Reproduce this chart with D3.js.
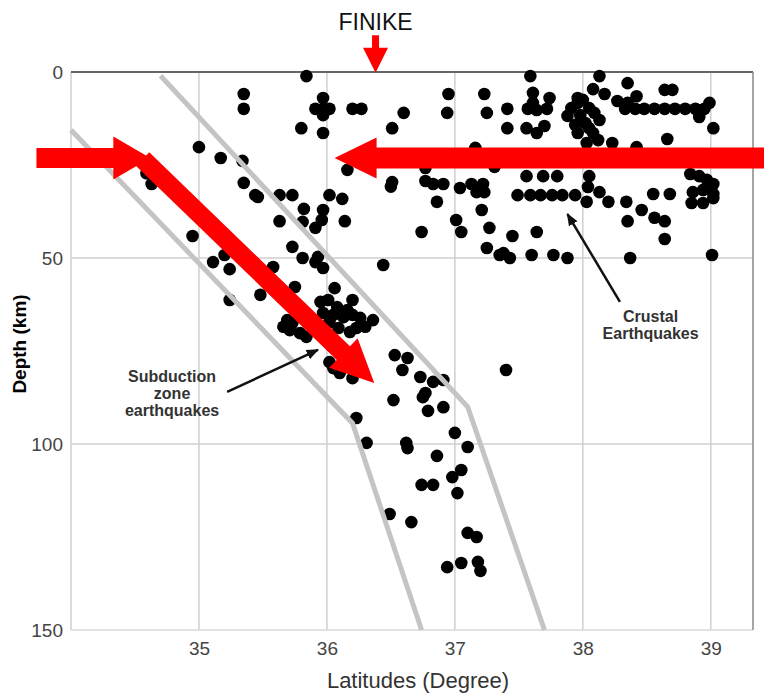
<!DOCTYPE html>
<html>
<head>
<meta charset="utf-8">
<script src="https://cdn.jsdelivr.net/npm/d3@7"></script>
<style>
    body { margin: 0; background: #fff; }
    text { font-family: "Liberation Sans", Arial, sans-serif; }
</style>
</head>
<body>
<div id="chart"></div>
<script>
// axis ticks
const latTicks = [35, 36, 37, 38, 39];
const depthTicks = [0, 50, 100, 150];

// crustal earthquakes (latitude in degree, depth in km)
const crustalLat = [35.84, 35.35, 35.35, 35.97, 35.91, 35.97, 36.02, 35.97, 36.20, 36.27,
    35.80, 35.97, 36.60, 36.51, 36.95, 36.94, 37.23, 37.25, 37.41, 37.41,
    37.16, 36.16, 36.51, 36.50, 36.77, 36.83, 36.91, 37.04, 37.13, 37.17,
    37.22, 37.23, 36.86, 37.21, 37.01, 37.05, 36.74, 37.27, 37.25, 37.35,
    37.43, 36.44, 37.59, 38.13, 38.35, 37.61, 37.74, 37.96, 38.08, 38.17,
    38.27, 38.42, 38.64, 38.70, 37.57, 37.64, 37.72, 37.88, 37.91, 37.56,
    37.64, 37.70, 38.02, 38.05, 38.08, 38.03, 38.12, 37.98, 38.13, 37.96,
    38.33, 38.41, 38.48, 38.56, 38.64, 38.72, 38.80, 38.88, 38.95, 38.91,
    39.02, 38.99, 38.66, 38.23, 38.42, 37.56, 37.69, 37.80, 37.49, 37.59,
    37.67, 37.76, 37.84, 37.94, 38.05, 38.04, 38.13, 38.03, 38.20, 38.34,
    38.55, 38.68, 38.46, 38.56, 38.64, 38.35, 38.64, 38.84, 38.91, 38.97,
    39.02, 38.86, 38.94, 39.02, 38.85, 38.94, 39.02, 37.45, 37.64, 37.38,
    37.60, 37.77, 37.88, 38.37, 39.01, 36.77, 37.31, 37.61, 37.96, 38.35,
    38.00, 38.05, 37.94, 38.09];
const crustalDepth = [1.1, 5.9, 9.9, 7.0, 9.9, 9.9, 9.9, 11.6, 9.9, 9.9,
    15.1, 16.4, 11.0, 15.1, 5.9, 11.0, 5.9, 11.0, 9.9, 15.1,
    20.4, 26.3, 29.6, 30.8, 29.3, 30.1, 30.1, 31.2, 30.1, 32.3,
    30.1, 32.3, 34.9, 37.1, 39.8, 43.0, 43.0, 41.9, 47.3, 49.2,
    50.0, 51.9, 1.1, 1.1, 3.0, 5.6, 7.0, 7.0, 4.6, 5.9,
    7.8, 6.5, 4.8, 4.8, 9.9, 10.2, 9.9, 11.8, 9.7, 15.1,
    16.4, 14.5, 13.7, 9.7, 16.4, 19.1, 18.3, 11.6, 12.9, 16.4,
    9.9, 9.9, 9.9, 9.9, 9.9, 9.9, 9.9, 9.9, 9.9, 12.1,
    15.1, 8.3, 18.0, 19.1, 20.2, 28.0, 28.0, 28.0, 33.1, 33.1,
    33.1, 33.1, 33.1, 33.1, 28.0, 30.9, 32.3, 34.9, 34.9, 34.9,
    32.8, 32.8, 37.1, 39.2, 40.1, 40.1, 44.9, 27.4, 28.0, 29.0,
    30.1, 32.3, 31.7, 32.8, 35.2, 35.2, 33.9, 44.1, 43.0, 48.7,
    49.2, 49.2, 50.0, 50.0, 49.2, 25.8, 25.5, 8.3, 8.3, 8.3,
    7.5, 15.1, 14.2, 11.0];

// subduction zone earthquakes
const slabLat = [35.00, 35.17, 35.34, 34.59, 34.63, 35.35, 35.44, 35.46, 35.63, 35.73,
    36.02, 36.12, 35.82, 35.97, 35.63, 35.81, 35.91, 35.96, 36.14, 34.95,
    35.73, 35.11, 35.20, 35.24, 35.24, 35.48, 35.58, 35.81, 35.93, 35.97,
    35.91, 35.75, 36.06, 36.20, 35.95, 36.01, 36.08, 36.16, 35.97, 36.05,
    36.13, 36.20, 36.26, 36.30, 36.23, 36.18, 35.69, 35.73, 35.66, 35.71,
    35.79, 35.84, 35.89, 36.36, 36.09, 36.02, 36.02, 36.05, 36.10, 36.20,
    36.23, 36.31, 36.53, 36.63, 36.59, 36.73, 36.83, 36.91, 36.77, 36.75,
    36.52, 36.79, 36.91, 37.00, 37.10, 36.62, 36.63, 36.86, 37.05, 36.98,
    36.74, 36.83, 37.02, 36.49, 36.66, 37.10, 37.17, 36.94, 37.05, 37.18,
    37.20, 37.40];
const slabDepth = [20.2, 23.1, 23.9, 27.2, 30.1, 29.8, 33.1, 33.6, 33.1, 33.1,
    33.1, 34.1, 36.8, 37.1, 40.1, 40.3, 41.9, 39.8, 40.1, 44.1,
    47.0, 51.1, 49.2, 53.0, 61.3, 59.9, 52.4, 50.0, 49.7, 52.7,
    51.1, 57.8, 58.1, 61.3, 61.8, 61.3, 63.2, 64.0, 64.8, 65.3,
    65.9, 65.3, 66.1, 68.5, 68.8, 69.9, 66.7, 67.5, 68.5, 69.4,
    70.2, 71.2, 67.2, 66.7, 68.8, 67.2, 78.0, 79.6, 80.9, 82.3,
    93.0, 99.7, 76.1, 76.9, 80.1, 82.0, 83.3, 82.8, 86.3, 87.4,
    88.2, 91.1, 90.1, 97.0, 100.8, 99.7, 101.1, 103.2, 107.0, 108.9,
    111.0, 111.0, 113.2, 118.8, 121.0, 123.9, 125.0, 133.1, 132.0, 131.7,
    134.1, 80.1];

// grey slab boundaries
const upperLat = [34.70, 37.10, 37.70];
const upperDepth = [1, 90, 150];
const lowerLat = [34.00, 36.20, 36.74];
const lowerDepth = [15.6, 94.4, 150];

const width = 764, height = 693;
const margin = {top: 72, right: 11, bottom: 63, left: 71};

const svg = d3.select("#chart").append("svg")
    .attr("width", width)
    .attr("height", height);

const x = d3.scaleLinear().domain([34, 39.33]).range([margin.left, width - margin.right]);
const y = d3.scaleLinear().domain([0, 150]).range([margin.top, height - margin.bottom]);

// grid lines
svg.append("g")
    .selectAll("line.vgrid")
    .data(latTicks)
    .enter().append("line")
    .attr("x1", d => x(d)).attr("x2", d => x(d))
    .attr("y1", y(0)).attr("y2", y(150))
    .style("stroke", "#cfcfcf").style("stroke-width", 1.5);
svg.append("g")
    .selectAll("line.hgrid")
    .data([50, 100])
    .enter().append("line")
    .attr("x1", x(34)).attr("x2", x(39.33))
    .attr("y1", d => y(d)).attr("y2", d => y(d))
    .style("stroke", "#cfcfcf").style("stroke-width", 1.5);

// frame: light left/bottom, darker top/right
svg.append("line").attr("x1", x(34)).attr("x2", x(34)).attr("y1", y(0)).attr("y2", y(150))
    .style("stroke", "#cfcfcf").style("stroke-width", 1.5);
svg.append("line").attr("x1", x(34)).attr("x2", x(39.33)).attr("y1", y(150)).attr("y2", y(150))
    .style("stroke", "#d8d8d8").style("stroke-width", 1.5);
svg.append("line").attr("x1", x(34)).attr("x2", x(39.33)).attr("y1", y(0)).attr("y2", y(0))
    .style("stroke", "#666").style("stroke-width", 2);
svg.append("line").attr("x1", x(39.33)).attr("x2", x(39.33)).attr("y1", y(0)).attr("y2", y(150))
    .style("stroke", "#888").style("stroke-width", 1.5);

// axes (labels only)
const xAxis = svg.append("g")
    .attr("transform", "translate(0," + y(150) + ")")
    .call(d3.axisBottom(x).tickValues(latTicks).tickFormat(d3.format("d")).tickSize(0).tickPadding(12));
const yAxis = svg.append("g")
    .attr("transform", "translate(" + x(34) + ",0)")
    .call(d3.axisLeft(y).tickValues(depthTicks).tickFormat(d3.format("d")).tickSize(0).tickPadding(8));
[xAxis, yAxis].forEach(function (g) {
    g.select(".domain").remove();
    g.selectAll("text")
        .style("font-family", "'Liberation Sans', Arial, sans-serif")
        .style("font-size", "19px")
        .style("fill", "#444");
});

// earthquakes
const quakes = crustalLat.map((d, i) => ({lat: d, depth: crustalDepth[i]}))
    .concat(slabLat.map((d, i) => ({lat: d, depth: slabDepth[i]})));
svg.append("g")
    .selectAll("circle")
    .data(quakes)
    .enter().append("circle")
    .attr("cx", d => x(d.lat))
    .attr("cy", d => y(d.depth))
    .attr("r", 6.3)
    .style("fill", "#000");

// slab boundaries
const line = d3.line().x(d => x(d[0])).y(d => y(d[1]));
[[upperLat, upperDepth], [lowerLat, lowerDepth]].forEach(function (b) {
    svg.append("path")
        .attr("d", line(b[0].map((d, i) => [d, b[1][i]])))
        .style("fill", "none")
        .style("stroke", "#c4c4c4")
        .style("stroke-width", 5);
});

// block arrow polygon in pixel space
function blockArrow(x1, y1, x2, y2, shaftW, headW, headL) {
    const dx = x2 - x1, dy = y2 - y1;
    const len = Math.sqrt(dx * dx + dy * dy);
    const ux = dx / len, uy = dy / len, px = -uy, py = ux;
    const bx = x2 - ux * headL, by = y2 - uy * headL;
    const pts = [
        [x1 + px * shaftW / 2, y1 + py * shaftW / 2],
        [bx + px * shaftW / 2, by + py * shaftW / 2],
        [bx + px * headW / 2, by + py * headW / 2],
        [x2, y2],
        [bx - px * headW / 2, by - py * headW / 2],
        [bx - px * shaftW / 2, by - py * shaftW / 2],
        [x1 - px * shaftW / 2, y1 - py * shaftW / 2]
    ];
    return "M" + pts.map(p => p.join(",")).join("L") + "Z";
}

const red = "#ff0000";
// westward arrow into the slab
svg.append("path").attr("d", blockArrow(x(33.73), y(23.1), x(34.62), y(23.1), 20, 43, 37)).style("fill", red);
// subducting slab arrow
svg.append("path").attr("d", blockArrow(x(34.56), y(23.4), x(36.37), y(83.6), 19, 41, 43)).style("fill", red);
// arrow from the east
svg.append("path").attr("d", blockArrow(x(39.50), y(23.1), x(36.06), y(23.1), 21, 41, 42)).style("fill", red);
// FINIKE marker
svg.append("path").attr("d", blockArrow(x(36.38), y(-9.9), x(36.38), y(0.2), 7, 25, 25)).style("fill", red);
svg.append("text")
    .attr("x", x(36.38)).attr("y", 30)
    .attr("text-anchor", "middle")
    .style("font-size", "23px")
    .style("fill", "#111")
    .text("FINIKE");

// thin black annotation arrows
svg.append("defs").append("marker")
    .attr("id", "head")
    .attr("viewBox", "0 0 10 10")
    .attr("refX", 9).attr("refY", 5)
    .attr("markerWidth", 5).attr("markerHeight", 5)
    .attr("orient", "auto")
    .append("path").attr("d", "M0,1L10,5L0,9Z").style("fill", "#111");

[[35.22, 86.0, 35.93, 74.7], [38.29, 61.8, 37.88, 38.2]].forEach(function (a) {
    svg.append("line")
        .attr("x1", x(a[0])).attr("y1", y(a[1]))
        .attr("x2", x(a[2])).attr("y2", y(a[3]))
        .style("stroke", "#111").style("stroke-width", 2.5)
        .attr("marker-end", "url(#head)");
});

function noteText(lat, depth, lines) {
    const t = svg.append("text")
        .attr("text-anchor", "middle")
        .style("font-size", "16px")
        .style("font-weight", "bold")
        .style("fill", "#333");
    lines.forEach(function (s, i) {
        t.append("tspan").attr("x", x(lat)).attr("y", y(depth) + i * 17).text(s);
    });
}
noteText(34.79, 83.3, ["Subduction", "zone", "earthquakes"]);
noteText(38.53, 67.2, ["Crustal", "Earthquakes"]);

// axis titles
svg.append("text")
    .attr("x", (x(34) + x(39.33)) / 2 + 6).attr("y", 688)
    .attr("text-anchor", "middle")
    .style("font-size", "22px")
    .style("fill", "#333")
    .text("Latitudes (Degree)");
svg.append("text")
    .attr("transform", "translate(26," + ((y(0) + y(150)) / 2 - 7) + ") rotate(-90)")
    .attr("text-anchor", "middle")
    .style("font-size", "19px")
    .style("font-weight", "bold")
    .style("fill", "#000")
    .text("Depth (km)");
</script>
</body>
</html>
